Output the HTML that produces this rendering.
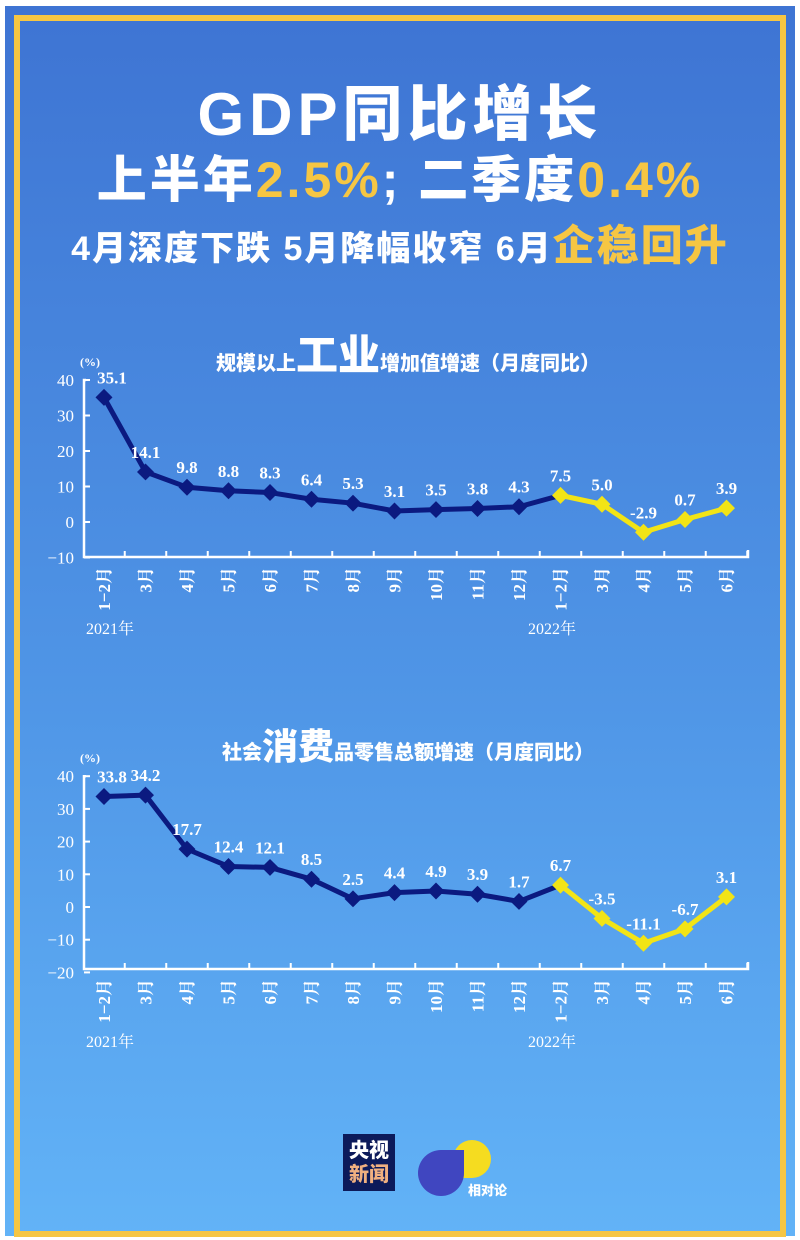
<!DOCTYPE html>
<html><head><meta charset="utf-8"><style>
body{margin:0;width:800px;height:1240px;background:#fff;overflow:hidden}
#bg{position:absolute;left:5px;top:6px;width:790px;height:1230px;background:linear-gradient(#3e74d3,#4f95e6 55%,#62b3f7)}
#br{position:absolute;left:14px;top:15px;width:760px;height:1210px;border:6px solid #f6c643}
.t{position:absolute;left:0;width:800px;text-align:center;color:#fff;font-family:"Liberation Sans","Noto Sans CJK SC",sans-serif;font-weight:900;white-space:nowrap}
.y{color:#f6c643}
svg{position:absolute;left:0;top:0}
</style></head><body>
<div id="bg"></div><div id="br"></div>
<div class="t" style="top:66px;font-size:60px;letter-spacing:5px">GDP同比增长</div>
<div class="t" style="top:140px;font-size:50px;letter-spacing:3px">上半年<span class="y">2.5%</span>; 二季度<span class="y">0.4%</span></div>
<div class="t" style="top:212px;font-size:34px;letter-spacing:2px">4月深度下跌 5月降幅收窄 6月<span class="y" style="font-size:42px">企稳回升</span></div>
<div class="t" style="top:322px;font-size:20px;left:8px">规模以上<span style="font-size:42px">工业</span>增加值增速（月度同比）</div>
<div class="t" style="top:718px;font-size:20px;left:8px">社会<span style="font-size:36px">消费</span>品零售总额增速（月度同比）</div>
<svg width="800" height="1240" id="s" font-family="'Liberation Serif','Noto Serif CJK SC',serif" font-weight="bold"></svg>
<div style="position:absolute;left:343px;top:1134px;width:52px;height:57px;background:#0c1a5a;color:#fff;font:900 20px 'Noto Sans CJK SC',sans-serif;line-height:24px;text-align:center;padding-top:3px;box-sizing:border-box">央视<br><span style="color:#f0b080">新闻</span></div>
<div style="position:absolute;left:453px;top:1140px;width:38px;height:38px;border-radius:50% 50% 50% 0;background:#f5dc20"></div>
<div style="position:absolute;left:418px;top:1150px;width:46px;height:46px;border-radius:50% 0 50% 50%;background:#4046c0"></div>
<div style="position:absolute;left:468px;top:1180px;color:#fff;font:900 13px 'Noto Sans CJK SC',sans-serif">相对论</div>
<script>
var s=document.getElementById('s'),h='';
var lab=['1−2月','3月','4月','5月','6月','7月','8月','9月','10月','11月','12月','1−2月','3月','4月','5月','6月'];
function chart(d,z,k,top,bot,ticks,yl){
 var X=i=>104+i*41.5,Y=v=>z-v*k;
 h+=`<path d="M86 ${Y(top)}H84V${bot}H748V${bot-7}" stroke="#fff" stroke-width="2.5" fill="none"/>`;
 for(var i=0;i<16;i++){var tx=X(i)+20.75;h+=`<line x1="${tx}" x2="${tx}" y1="${bot}" y2="${bot-6}" stroke="#fff" stroke-width="2"/>`;
  h+=`<text transform="translate(${X(i)+6},${bot+10}) rotate(-90)" text-anchor="end" fill="#fff" font-size="17">${lab[i]}</text>`;}
 ticks.forEach(v=>{h+=`<line x1="84" x2="90" y1="${Y(v)}" y2="${Y(v)}" stroke="#fff" stroke-width="2"/><text x="74" y="${Y(v)+6}" text-anchor="end" fill="#fff" font-size="17" font-weight="normal">${v<0?'−'+(-v):v}</text>`});
 h+=`<text x="80" y="${Y(top)-14}" fill="#fff" font-size="12">(%)</text>`;
 h+=`<text x="86" y="${yl}" fill="#fff" font-size="16" font-weight="normal">2021年</text><text x="528" y="${yl}" fill="#fff" font-size="16" font-weight="normal">2022年</text>`;
 var p1=d.slice(0,12).map((v,i)=>X(i)+','+Y(v)).join(' '),p2=d.slice(11).map((v,i)=>X(i+11)+','+Y(v)).join(' ');
 h+=`<polyline points="${p1}" stroke="#0b1a80" stroke-width="5" fill="none" stroke-linejoin="round"/><polyline points="${p2}" stroke="#f2e416" stroke-width="5" fill="none" stroke-linejoin="round"/>`;
 d.forEach((v,i)=>{var c=i<11?'#0b1a80':'#f2e416',x=X(i),y=Y(v);h+=`<rect x="${x-6}" y="${y-6}" width="12" height="12" fill="${c}" transform="rotate(45 ${x} ${y})"/>`;
  h+=`<text x="${x+(i==0?8:0)}" y="${y-14}" text-anchor="middle" fill="#fff" font-size="17">${v.toFixed(1)}</text>`});
}
chart([35.1,14.1,9.8,8.8,8.3,6.4,5.3,3.1,3.5,3.8,4.3,7.5,5.0,-2.9,0.7,3.9],522,3.55,40,557,[40,30,20,10,0,-10],634);
chart([33.8,34.2,17.7,12.4,12.1,8.5,2.5,4.4,4.9,3.9,1.7,6.7,-3.5,-11.1,-6.7,3.1],907,3.27,40,969,[40,30,20,10,0,-10,-20],1047);
s.innerHTML=h;
</script>
</body></html>
